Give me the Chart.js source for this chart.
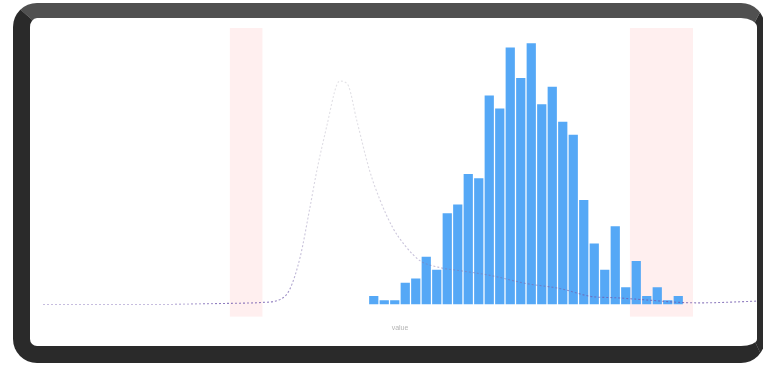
<!DOCTYPE html>
<html>
<head>
<meta charset="utf-8">
<script src="https://cdn.jsdelivr.net/npm/chart.js@4"></script>
<style>
  html, body { margin: 0; padding: 0; background: #ffffff; }
  body { width: 763px; height: 365px; overflow: hidden; position: relative; font-family: "DejaVu Sans", sans-serif; }
  .frame {
    position: absolute; left: 13px; top: 3px;
    width: 752px; height: 360px; box-sizing: border-box;
    border-style: solid; border-width: 15px 8px 17px 17px;
    border-color: #505050 #2c2c2c #2a2a2a #2a2a2a;
    border-radius: 24px; background: #ffffff;
  }
  .frame canvas { position: absolute; left: 0; top: 0; }
</style>
</head>
<body>
<div class="frame"><canvas id="c" width="727" height="328"></canvas></div>
<script>
// Histogram bins (bin centres) and their counts
const binCenters = [31.5, 32.5, 33.5, 34.5, 35.5, 36.5, 37.5, 38.5, 39.5, 40.5,
                    41.5, 42.5, 43.5, 44.5, 45.5, 46.5, 47.5, 48.5, 49.5, 50.5,
                    51.5, 52.5, 53.5, 54.5, 55.5, 56.5, 57.5, 58.5, 59.5, 60.5];
const binCounts  = [2, 1, 1, 5, 6, 11, 8, 21, 23, 30,
                    29, 48, 45, 59, 52, 60, 46, 50, 42, 39,
                    24, 14, 8, 18, 4, 10, 2, 4, 1, 2];

// Reference density curve (dotted)
const curveX = [0, 10.2, 18.1, 20.9, 22.6, 23.5, 24.5, 25.4, 26.1, 27, 28, 28.3, 29, 29.9,
                31.1, 32.1, 33.3, 34.5, 35.9, 37.8, 39.7, 42.6, 46.1, 49.2, 52.4, 54.3,
                57.8, 60.7, 62.6, 68];
const curveY = [0, 0, 0.3, 0.5, 1.2, 3.5, 11, 22, 31, 40.7, 50.6, 51.3, 50.6, 42.1,
                30.8, 24, 17.7, 13.5, 10.1, 8.5, 7.8, 6.7, 4.8, 3.7, 1.8, 1.6,
                1.0, 0.5, 0.4, 0.8];

// Shaded limit regions [from, to]
const shadedRanges = [[17.8, 20.9], [55.9, 61.9]];

const xAxisTitle = 'value';

const bandPlugin = {
  id: 'bands',
  beforeDatasetsDraw(chart) {
    const { ctx, chartArea, scales } = chart;
    ctx.save();
    ctx.fillStyle = 'rgba(255, 40, 40, 0.075)';
    shadedRanges.forEach(([a, b]) => {
      const x1 = scales.x.getPixelForValue(a);
      const x2 = scales.x.getPixelForValue(b);
      ctx.fillRect(x1, chartArea.top, x2 - x1, chartArea.bottom - chartArea.top + 12);
    });
    ctx.restore();
  }
};

// Curve colour fades from purple near the baseline to pale grey at the peak
function curveStroke(context) {
  const { chart } = context;
  const area = chart.chartArea;
  if (!area) return 'rgba(120, 100, 175, 0.5)';
  const g = chart.ctx.createLinearGradient(0, area.bottom, 0, area.top);
  g.addColorStop(0, 'rgba(105, 80, 170, 0.75)');
  g.addColorStop(0.12, 'rgba(130, 115, 175, 0.5)');
  g.addColorStop(0.5, 'rgba(170, 165, 185, 0.4)');
  g.addColorStop(1, 'rgba(185, 185, 190, 0.35)');
  return g;
}

new Chart(document.getElementById('c'), {
  data: {
    datasets: [
      {
        type: 'line',
        order: 0,
        data: curveX.map((x, i) => ({ x, y: curveY[i] })),
        borderColor: curveStroke,
        borderWidth: 1.1,
        borderDash: [2, 2],
        pointRadius: 0,
        fill: false,
        cubicInterpolationMode: 'monotone'
      },
      {
        type: 'bar',
        order: 1,
        data: binCenters.map((x, i) => ({ x, y: binCounts[i] })),
        backgroundColor: '#55a8f6',
        borderWidth: 0,
        barPercentage: 0.88,
        categoryPercentage: 1
      }
    ]
  },
  options: {
    responsive: false,
    animation: false,
    layout: { padding: { left: 13, top: 10, right: 0, bottom: 10 } },
    plugins: { legend: { display: false }, tooltip: { enabled: false } },
    scales: {
      x: {
        type: 'linear', min: 0, max: 68, offset: false,
        grid: { display: false }, border: { display: false },
        ticks: { display: false },
        title: { display: true, text: xAxisTitle, color: '#b5b5b5',
                 font: { size: 7 }, padding: { top: 11, bottom: 4 } }
      },
      y: {
        min: 0, max: 63.5, display: false
      }
    }
  },
  plugins: [bandPlugin]
});
</script>
</body>
</html>
